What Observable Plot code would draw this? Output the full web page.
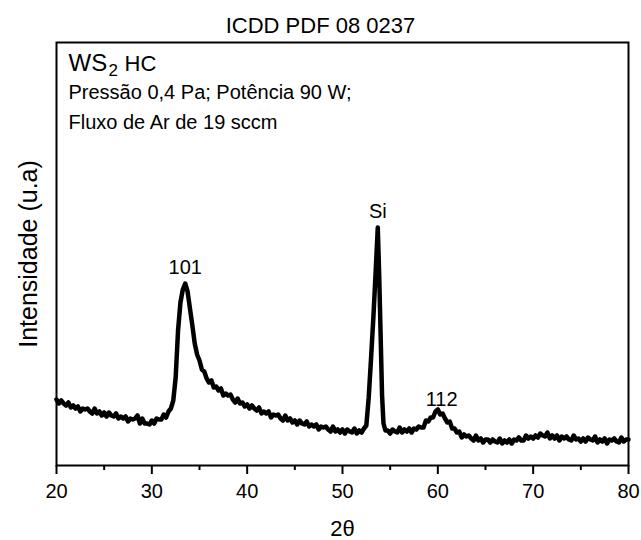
<!DOCTYPE html>
<html><head><meta charset="utf-8">
<script src="https://cdn.jsdelivr.net/npm/d3@7"></script>
<script src="https://cdn.jsdelivr.net/npm/@observablehq/plot@0.6"></script>
<style>html,body{margin:0;padding:0;background:#fff} svg{display:block}</style>
</head><body><div id="chart"></div>
<script>
const twoTheta = [
  20.00,20.25,20.50,20.75,21.00,21.25,21.50,21.75,22.00,22.25,
  22.50,22.75,23.00,23.25,23.50,23.75,24.00,24.25,24.50,24.75,
  25.00,25.25,25.50,25.75,26.00,26.25,26.50,26.75,27.00,27.25,
  27.50,27.75,28.00,28.25,28.50,28.75,29.00,29.25,29.50,29.75,
  30.00,30.25,30.50,30.75,31.00,31.25,31.50,31.75,32.00,32.25,
  32.50,32.75,33.00,33.25,33.50,33.75,34.00,34.25,34.50,34.75,
  35.00,35.25,35.50,35.75,36.00,36.25,36.50,36.75,37.00,37.25,
  37.50,37.75,38.00,38.25,38.50,38.75,39.00,39.25,39.50,39.75,
  40.00,40.25,40.50,40.75,41.00,41.25,41.50,41.75,42.00,42.25,
  42.50,42.75,43.00,43.25,43.50,43.75,44.00,44.25,44.50,44.75,
  45.00,45.25,45.50,45.75,46.00,46.25,46.50,46.75,47.00,47.25,
  47.50,47.75,48.00,48.25,48.50,48.75,49.00,49.25,49.50,49.75,
  50.00,50.25,50.50,50.75,51.00,51.25,51.50,51.75,52.00,52.25,
  52.50,52.75,53.00,53.25,53.50,53.70,53.85,54.00,54.15,54.30,
  54.50,54.75,55.00,55.25,55.50,55.75,56.00,56.25,56.50,56.75,
  57.00,57.25,57.50,57.75,58.00,58.25,58.50,58.75,59.00,59.25,
  59.50,59.75,60.00,60.25,60.50,60.75,61.00,61.25,61.50,61.75,
  62.00,62.25,62.50,62.75,63.00,63.25,63.50,63.75,64.00,64.25,
  64.50,64.75,65.00,65.25,65.50,65.75,66.00,66.25,66.50,66.75,
  67.00,67.25,67.50,67.75,68.00,68.25,68.50,68.75,69.00,69.25,
  69.50,69.75,70.00,70.25,70.50,70.75,71.00,71.25,71.50,71.75,
  72.00,72.25,72.50,72.75,73.00,73.25,73.50,73.75,74.00,74.25,
  74.50,74.75,75.00,75.25,75.50,75.75,76.00,76.25,76.50,76.75,
  77.00,77.25,77.50,77.75,78.00,78.25,78.50,78.75,79.00,79.25,
  79.50,79.75,80.00
];
const intensity = [
  66,62,65,62,60,63,58,60,57,59,
  54,57,56,57,54,52,57,52,54,50,
  53,49,53,50,49,52,47,49,47,49,
  44,47,46,47,50,42,47,42,42,41,
  45,42,47,46,46,51,48,54,57,65,
  88,135,163,176,182,174,157,140,122,111,
  105,96,94,87,83,85,78,79,75,77,
  70,72,70,71,66,63,67,62,63,59,
  61,57,60,57,55,58,52,54,52,54,
  48,51,50,51,47,45,50,45,47,43,
  45,41,45,42,41,44,39,41,39,41,
  36,39,38,39,36,34,39,34,36,33,
  36,32,36,34,33,37,32,35,33,37,
  40,68,108,150,198,238,190,130,70,42,
  35,35,32,36,34,33,38,33,36,34,
  37,33,37,36,39,38,38,45,44,48,
  48,54,56,51,52,47,43,44,37,37,
  33,34,28,31,29,30,27,25,30,25,
  27,23,26,26,23,26,24,23,27,22,
  25,23,26,22,26,25,28,25,25,30,
  27,29,27,30,28,32,30,29,33,27,
  30,27,30,25,29,27,29,26,25,30,
  26,27,24,27,24,28,26,25,29,23,
  26,24,27,22,26,25,27,24,23,28,
  24,26,26
];
const xTicks = [20, 30, 40, 50, 60, 70, 80];
const xMinorTicks = [25, 35, 45, 55, 65, 75];
const peakLabels = ["101", "Si", "112"];
const peakPos = [33.5, 53.7, 60.4];
const peakHeight = [182, 238, 56];
const titleText = "ICDD PDF 08 0237";
const yLabel = "Intensidade (u.a)";
const xLabel = "2θ";
const sampleName = ["WS", "2", " HC"];
const conditions = ["Pressão 0,4 Pa; Potência 90 W;", "Fluxo de Ar de 19 sccm"];

const data = twoTheta.map((x, i) => ({x, y: intensity[i]}));
const peaks = peakLabels.map((t, i) => ({t, x: peakPos[i], y: peakHeight[i]}));
const font = "'Liberation Sans', Arial, sans-serif";

const chart = Plot.plot({
  width: 641, height: 540,
  marginLeft: 56, marginRight: 13, marginTop: 42, marginBottom: 75,
  style: {fontFamily: font, background: "white", color: "black", overflow: "visible"},
  x: {domain: [20, 80], label: null},
  y: {domain: [0, 423], axis: null},
  marks: [
    Plot.line(data, {x: "x", y: "y", stroke: "black", strokeWidth: 4.5, strokeLinejoin: "round", strokeLinecap: "round"}),
    Plot.frame({stroke: "black", strokeWidth: 2}),
    Plot.axisX(xMinorTicks, {tickSize: 5, tickFormat: () => "", strokeWidth: 2, label: null}),
    Plot.axisX(xTicks, {tickSize: 9, tickPadding: 9, fontSize: 20, strokeWidth: 2, label: null, fill: "black"}),
    Plot.text(peaks.slice(0, 2), {x: "x", y: "y", text: "t", lineAnchor: "bottom", dy: -10, fontSize: 20, fill: "black"}),
    Plot.text(peaks.slice(2), {x: "x", y: "y", text: "t", lineAnchor: "bottom", dy: -4, fontSize: 20, fill: "black"}),
    Plot.text([titleText], {frameAnchor: "top", lineAnchor: "bottom", dx: -22, dy: -10, fontSize: 22, fill: "black"}),
    Plot.text([yLabel], {frameAnchor: "left", textAnchor: "middle", rotate: -90, dx: -28, fontSize: 25, fill: "black"}),
    Plot.text([xLabel], {frameAnchor: "bottom", lineAnchor: "bottom", dy: 70, fontSize: 22, fill: "black"}),
    Plot.text([sampleName[0]], {frameAnchor: "top-left", textAnchor: "start", lineAnchor: "bottom", dx: 12, dy: 28, fontSize: 24, fill: "black"}),
    Plot.text([sampleName[1]], {frameAnchor: "top-left", textAnchor: "start", lineAnchor: "bottom", dx: 52, dy: 33, fontSize: 17, fill: "black"}),
    Plot.text([sampleName[2]], {frameAnchor: "top-left", textAnchor: "start", lineAnchor: "bottom", dx: 62, dy: 28, fontSize: 22, fill: "black"}),
    Plot.text([conditions[0]], {frameAnchor: "top-left", textAnchor: "start", lineAnchor: "bottom", dx: 12, dy: 56, fontSize: 20, fill: "black"}),
    Plot.text([conditions[1]], {frameAnchor: "top-left", textAnchor: "start", lineAnchor: "bottom", dx: 12, dy: 86, fontSize: 20, fill: "black"})
  ]
});
document.getElementById("chart").appendChild(chart);
</script>
</body></html>
